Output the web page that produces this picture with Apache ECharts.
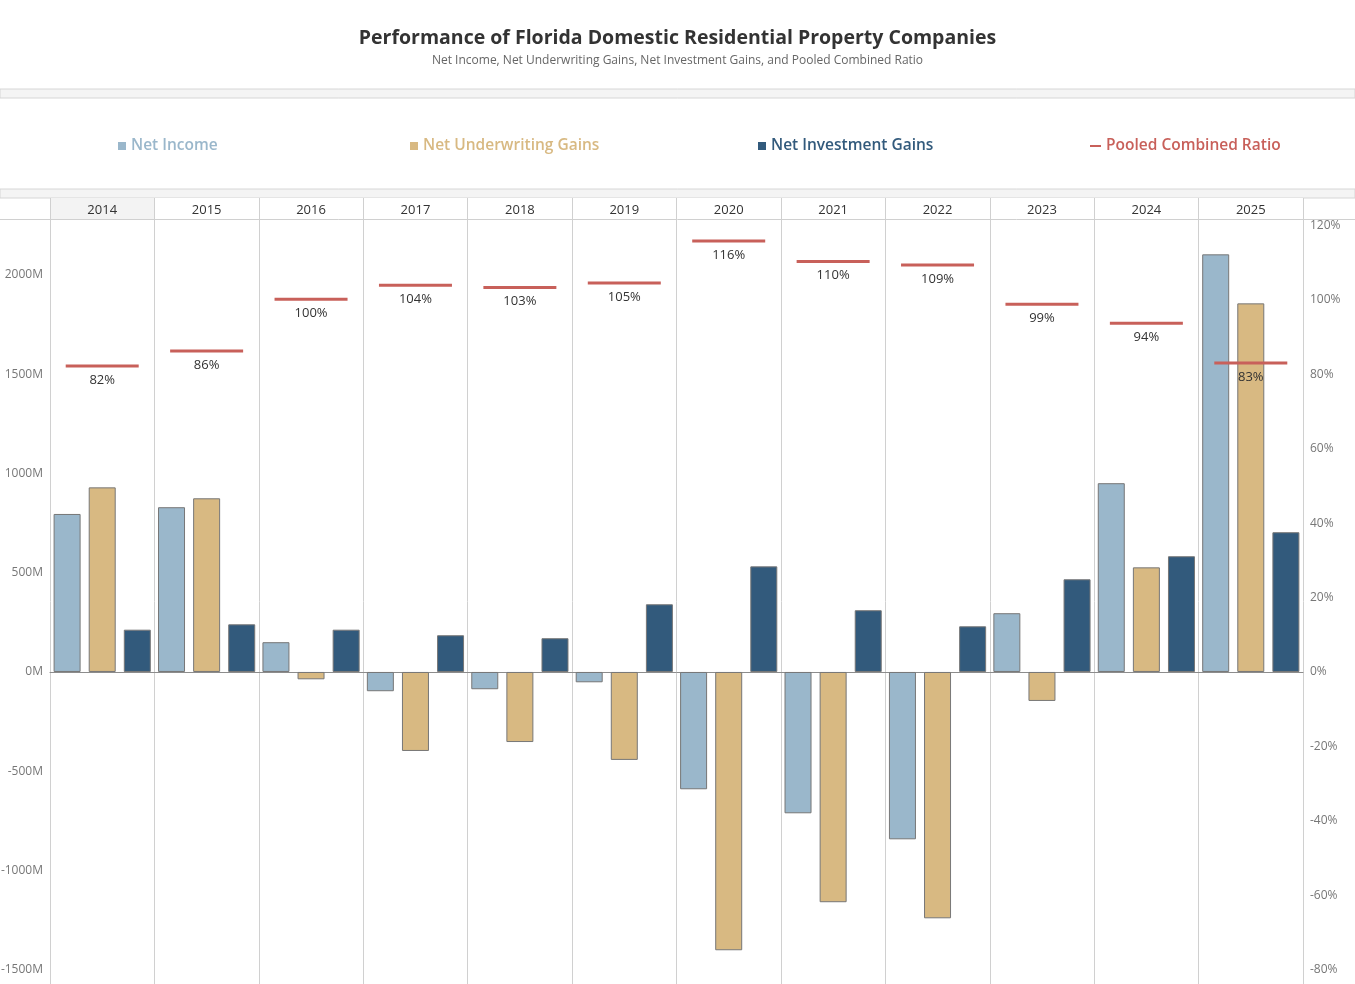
<!DOCTYPE html>
<html>
<head>
<meta charset="utf-8">
<script src="https://cdn.jsdelivr.net/npm/echarts@6/dist/echarts.min.js"></script>
<style>
  html, body { margin: 0; padding: 0; background: #fff; }
  #chart { width: 1355px; height: 984px; }
</style>
</head>
<body>
<div id="chart"></div>
<script>
// data
const years = ['2014', '2015', '2016', '2017', '2018', '2019', '2020', '2021', '2022', '2023', '2024', '2025'];
const netIncome = [796, 830, 150, -97, -87, -52, -591, -712, -843, 296, 951, 2104];
const netUnderwriting = [930, 875, -37, -398, -353, -443, -1402, -1160, -1241, -146, 527, 1857];
const netInvestment = [213, 240, 213, 185, 170, 341, 532, 311, 230, 467, 583, 704];
const combinedRatio = [82.3, 86.3, 100.2, 104.0, 103.4, 104.6, 115.9, 110.4, 109.4, 98.9, 93.8, 83.1];

const cNI = '#9ab7cb', cUW = '#d8b982', cINV = '#325a7c', cRatio = '#c8605a';
const font = '"Open Sans", sans-serif';

let myChart = echarts.init(document.getElementById('chart'));

// header cells: first one shaded
let headerShade = years.map(function (y, i) { return i === 0 ? '#f3f3f3' : '#ffffff'; });

function legendFor(name, left, color, w, h) {
    return {
        data: [{ name: name, icon: 'rect' }],
        left: left, top: 138, padding: 0,
        itemWidth: w, itemHeight: h,
        itemStyle: { borderWidth: 0 },
        textStyle: { color: color, fontSize: 15.5, fontWeight: 600, fontFamily: font }
    };
}

let option = {
    animation: false,
    title: {
        text: 'Performance of Florida Domestic Residential Property Companies',
        subtext: 'Net Income, Net Underwriting Gains, Net Investment Gains, and Pooled Combined Ratio',
        left: 'center', top: 23, itemGap: 7,
        textStyle: { fontSize: 19.5, fontWeight: 'bold', color: '#333', fontFamily: font },
        subtextStyle: { fontSize: 12, color: '#666', fontFamily: font }
    },
    legend: [
        legendFor('Net Income', 118, cNI, 8, 8),
        legendFor('Net Underwriting Gains', 410, cUW, 8, 8),
        legendFor('Net Investment Gains', 758, cINV, 8, 8),
        legendFor('Pooled Combined Ratio', 1090, cRatio, 11, 2)
    ],
    graphic: [
        { type: 'rect', shape: { x: 0, y: 89, width: 1355, height: 9 }, style: { fill: '#f4f4f4', stroke: '#d6d6d6', lineWidth: 1 }, silent: true },
        { type: 'rect', shape: { x: 0, y: 189, width: 1355, height: 9 }, style: { fill: '#f4f4f4', stroke: '#d6d6d6', lineWidth: 1 }, silent: true },
        { type: 'line', shape: { x1: 0, y1: 219.5, x2: 1355, y2: 219.5 }, style: { stroke: '#d0d0d0', lineWidth: 1 }, silent: true }
    ],
    grid: [
        { left: 50, right: 52, top: 219, bottom: 0, outerBoundsMode: 'none' },
        { left: 50, right: 52, top: 198, height: 21, outerBoundsMode: 'none' }
    ],
    xAxis: [
        {
            type: 'category', data: years, gridIndex: 0,
            axisLine: { onZero: true, lineStyle: { color: '#8c8c8c' } },
            axisTick: { show: false },
            axisLabel: { show: false },
            splitLine: { show: true, lineStyle: { color: '#d0d0d0' } }
        },
        {
            type: 'category', data: years, gridIndex: 1, position: 'bottom',
            axisLine: { show: false },
            axisTick: { show: false },
            axisLabel: { margin: -15, color: '#333', fontSize: 13, fontFamily: font },
            splitLine: { show: true, lineStyle: { color: '#d0d0d0' } },
            splitArea: { show: true, areaStyle: { color: headerShade } }
        }
    ],
    yAxis: [
        {
            type: 'value', gridIndex: 0,
            min: -1572, max: 2282, minInterval: 500, maxInterval: 500,
            axisLine: { show: false }, axisTick: { show: false },
            splitLine: { show: false },
            axisLabel: {
                margin: 7, color: '#777', fontSize: 12, fontFamily: font,
                showMinLabel: false, showMaxLabel: false,
                formatter: function (v) { return Math.round(v) + 'M'; }
            }
        },
        {
            type: 'value', gridIndex: 0, position: 'right',
            min: -83.9, max: 121.8, minInterval: 20, maxInterval: 20,
            axisLine: { show: false }, axisTick: { show: false },
            splitLine: { show: false },
            axisLabel: {
                margin: 7, color: '#777', fontSize: 12, fontFamily: font,
                showMinLabel: false, showMaxLabel: false,
                formatter: function (v) { return Math.round(v) + '%'; }
            }
        },
        { type: 'value', gridIndex: 1, min: 0, max: 1, show: false }
    ],
    series: [
        {
            name: 'Net Income', type: 'bar', data: netIncome,
            barWidth: 27, barGap: '30%',
            itemStyle: { color: cNI, borderColor: '#777', borderWidth: 1 }
        },
        {
            name: 'Net Underwriting Gains', type: 'bar', data: netUnderwriting,
            barWidth: 27, barGap: '30%',
            itemStyle: { color: cUW, borderColor: '#777', borderWidth: 1 }
        },
        {
            name: 'Net Investment Gains', type: 'bar', data: netInvestment,
            barWidth: 27, barGap: '30%',
            itemStyle: { color: cINV, borderColor: '#777', borderWidth: 1 }
        },
        {
            name: 'Pooled Combined Ratio', type: 'scatter', yAxisIndex: 1,
            data: combinedRatio, z: 10,
            symbol: 'rect', symbolSize: [73, 3],
            itemStyle: { color: cRatio, opacity: 1 },
            label: {
                show: true, position: 'bottom', distance: 6,
                color: '#333', fontSize: 13, fontFamily: font,
                formatter: function (p) { return Math.round(p.value) + '%'; }
            }
        }
    ]
};

myChart.setOption(option);
</script>
</body>
</html>
